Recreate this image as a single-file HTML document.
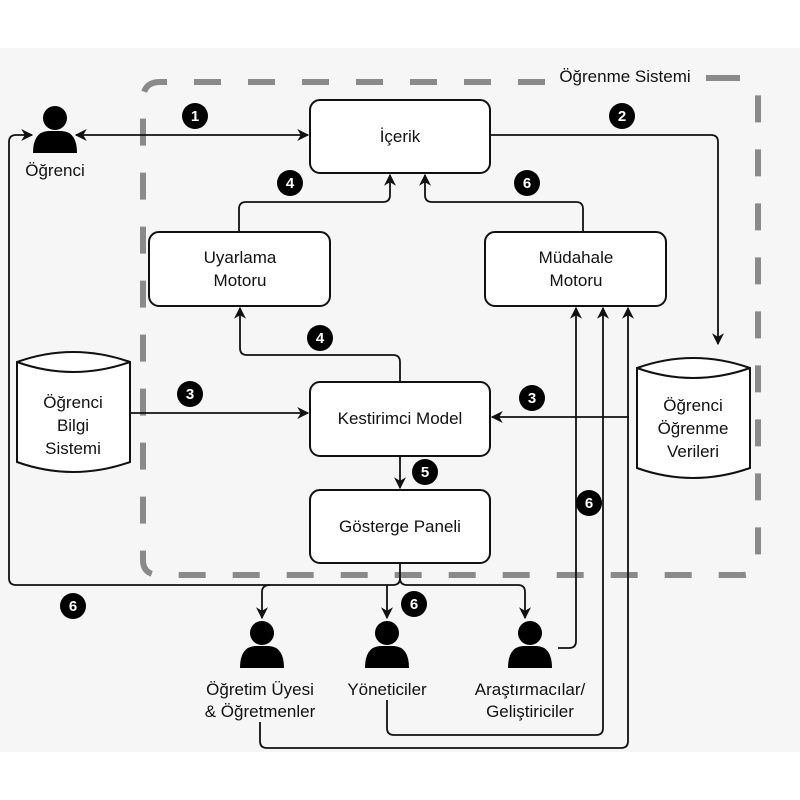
<!DOCTYPE html>
<html><head><meta charset="utf-8"><style>
html,body{margin:0;padding:0;background:#fff}
svg{display:block}
text{font-family:"Liberation Sans",sans-serif;fill:#111}
</style></head><body>
<svg width="800" height="800" viewBox="0 0 800 800" xmlns="http://www.w3.org/2000/svg">
<defs>
<marker id="a" viewBox="0 0 10 10" refX="9" refY="5" markerWidth="12" markerHeight="12" orient="auto-start-reverse" markerUnits="userSpaceOnUse">
<path d="M0,0 L10,5 L0,10 L3,5 z" fill="#111"/></marker>
<g id="p"><circle cx="0" cy="-12" r="12" fill="#000"/><path d="M-22,23 Q-22,2 -7,1 L7,1 Q22,2 22,23 z" fill="#000"/></g>
</defs>
<rect x="0" y="48" width="800" height="704" fill="#f6f6f6"/>
<path d="M545,82 H160 Q143,82 143,100 V560 Q143,575 160,575 H742 Q758,575 758,560 V80" fill="none" stroke="#8a8a8a" stroke-width="6" stroke-dasharray="27 27"/>
<path d="M706,78 H740" stroke="#8a8a8a" stroke-width="6"/>
<text x="625" y="82" font-size="17" text-anchor="middle">Öğrenme Sistemi</text>

<g fill="#fff" stroke="#111" stroke-width="2">
<rect x="310" y="100" width="180" height="73" rx="10"/>
<rect x="149" y="232" width="181" height="74" rx="10"/>
<rect x="485" y="232" width="181" height="74" rx="10"/>
<rect x="310" y="382" width="180" height="74" rx="10"/>
<rect x="310" y="490" width="180" height="73" rx="10"/>
<path d="M17,362 Q73,342 130,362 V462 Q73,482 17,462 z"/>
<path d="M17,362 Q73,382 130,362" fill="none"/>
<path d="M637,368 Q693,348 750,368 V468 Q693,488 637,468 z"/>
<path d="M637,368 Q693,388 750,368" fill="none"/>
</g>

<g font-size="17" text-anchor="middle">
<text x="400" y="142">İçerik</text>
<text x="240" y="263">Uyarlama</text><text x="240" y="286">Motoru</text>
<text x="576" y="263">Müdahale</text><text x="576" y="286">Motoru</text>
<text x="400" y="424">Kestirimci Model</text>
<text x="400" y="532">Gösterge Paneli</text>
<text x="73" y="408">Öğrenci</text><text x="73" y="431">Bilgi</text><text x="73" y="454">Sistemi</text>
<text x="693" y="411">Öğrenci</text><text x="693" y="434">Öğrenme</text><text x="693" y="457">Verileri</text>
<text x="55" y="176">Öğrenci</text>
<text x="260" y="695">Öğretim Üyesi</text><text x="260" y="717">&amp; Öğretmenler</text>
<text x="387" y="695">Yöneticiler</text>
<text x="530" y="695">Araştırmacılar/</text><text x="530" y="717">Geliştiriciler</text>
</g>

<g fill="none" stroke="#111" stroke-width="1.8">
<path d="M76,135 H308" marker-start="url(#a)" marker-end="url(#a)"/>
<path d="M400,563 V578 Q400,585 393,585 H16 Q9,585 9,578 V142 Q9,135 16,135 H32" marker-end="url(#a)"/>
<path d="M490,135 H711 Q718,135 718,142 V344" marker-end="url(#a)"/>
<path d="M239,232 V209 Q239,202 246,202 H383 Q390,202 390,195 V175" marker-end="url(#a)"/>
<path d="M583,232 V209 Q583,202 576,202 H432 Q425,202 425,195 V175" marker-end="url(#a)"/>
<path d="M400,382 V362 Q400,355 393,355 H247 Q240,355 240,348 V308" marker-end="url(#a)"/>
<path d="M130,413 H308" marker-end="url(#a)"/>
<path d="M629,417 H492" marker-end="url(#a)"/>
<path d="M400,456 V488" marker-end="url(#a)"/>
<path d="M400,578 Q400,585 407,585 H518 Q525,585 525,592 V618" marker-end="url(#a)"/>
<path d="M270,585 Q262,585 262,592 V618" marker-end="url(#a)"/>
<path d="M387,585 V618" marker-end="url(#a)"/>
<path d="M558,648 H569 Q576,648 576,641 V308" marker-end="url(#a)"/>
<path d="M387,700 V728 Q387,735 394,735 H596 Q603,735 603,728 V308" marker-end="url(#a)"/>
<path d="M260,722 V741 Q260,748 267,748 H621 Q628,748 628,741 V308" marker-end="url(#a)"/>
</g>

<use href="#p" x="55" y="130"/>
<use href="#p" x="262" y="645"/>
<use href="#p" x="387" y="645"/>
<use href="#p" x="530" y="645"/>

<g font-size="15" font-weight="bold" text-anchor="middle">
<g><circle cx="195" cy="116" r="13" fill="#000"/><text x="195" y="121" style="fill:#fff">1</text></g>
<g><circle cx="622" cy="116" r="13" fill="#000"/><text x="622" y="121" style="fill:#fff">2</text></g>
<g><circle cx="290" cy="183" r="13" fill="#000"/><text x="290" y="188" style="fill:#fff">4</text></g>
<g><circle cx="527" cy="183" r="13" fill="#000"/><text x="527" y="188" style="fill:#fff">6</text></g>
<g><circle cx="320" cy="338" r="13" fill="#000"/><text x="320" y="343" style="fill:#fff">4</text></g>
<g><circle cx="190" cy="394" r="13" fill="#000"/><text x="190" y="399" style="fill:#fff">3</text></g>
<g><circle cx="532" cy="398" r="13" fill="#000"/><text x="532" y="403" style="fill:#fff">3</text></g>
<g><circle cx="425" cy="472" r="13" fill="#000"/><text x="425" y="477" style="fill:#fff">5</text></g>
<g><circle cx="589" cy="503" r="13" fill="#000"/><text x="589" y="508" style="fill:#fff">6</text></g>
<g><circle cx="414" cy="604" r="13" fill="#000"/><text x="414" y="609" style="fill:#fff">6</text></g>
<g><circle cx="73" cy="606" r="13" fill="#000"/><text x="73" y="611" style="fill:#fff">6</text></g>
</g>
</svg>
</body></html>
